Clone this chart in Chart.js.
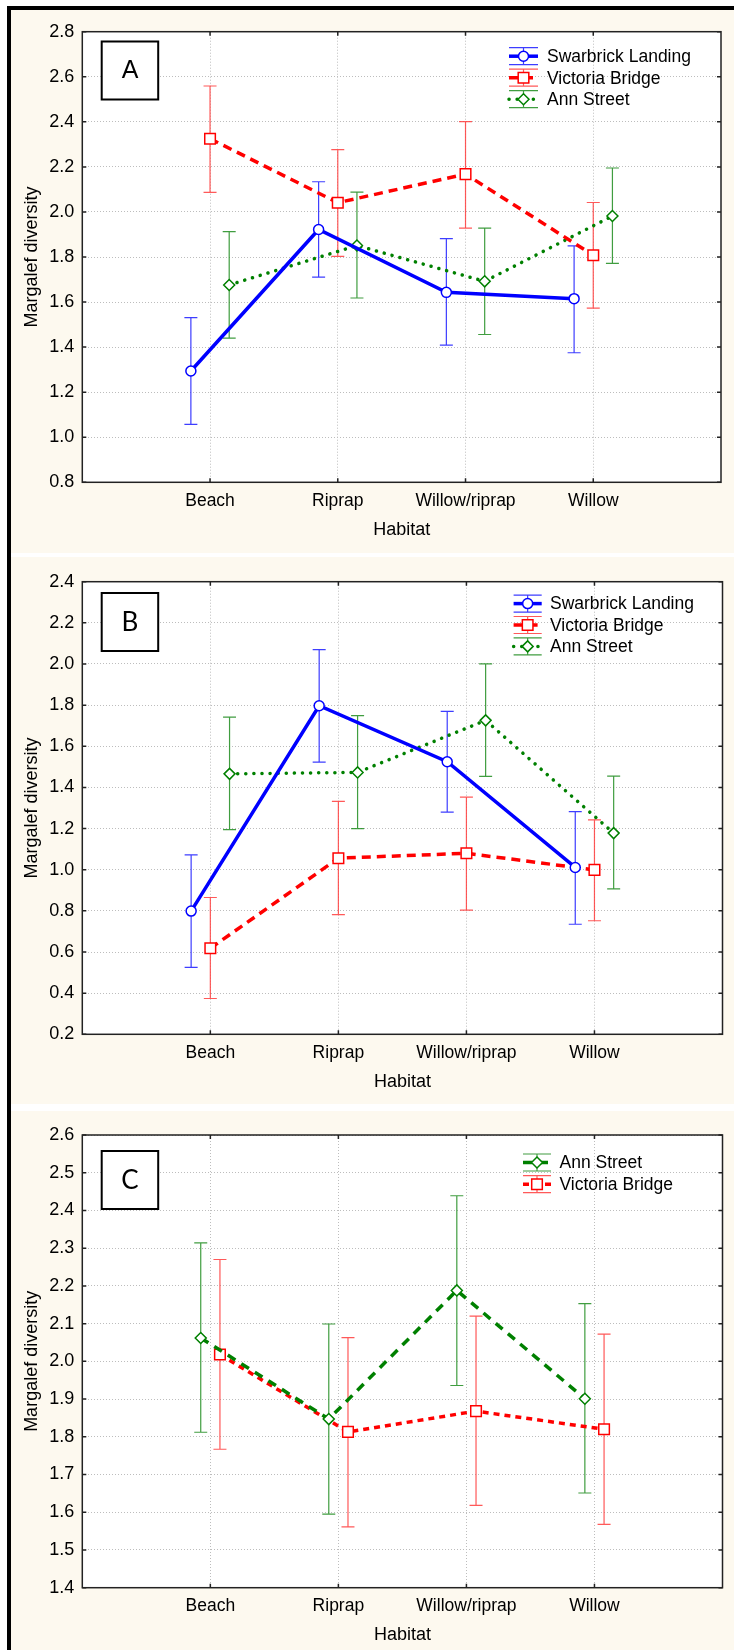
<!DOCTYPE html>
<html>
<head>
<meta charset="utf-8">
<script src="https://cdn.jsdelivr.net/npm/chart.js@4.4.1/dist/chart.umd.min.js"></script>
<style>
    body { margin: 0; background: #fff; }
    #frame { position: absolute; left: 7px; top: 6px; width: 727px; height: 1644px; box-sizing: border-box;
             border-top: 4px solid #000; border-left: 4px solid #000; background: #fff; }
    .panel { position: absolute; left: 11px; width: 723px; background: #fdf9ef; }
    canvas { display: block; }
</style>
</head>
<body>
<div id="frame"></div>
<div class="panel" style="top:10px;height:543px"><canvas id="chartA" width="723" height="543"></canvas></div>
<div class="panel" style="top:557px;height:547px"><canvas id="chartB" width="723" height="547"></canvas></div>
<div class="panel" style="top:1111px;height:539px"><canvas id="chartC" width="723" height="539"></canvas></div>
<script>
const habitats = ["Beach", "Riprap", "Willow/riprap", "Willow"];

// Panel A
const swarbrickA = [1.294, 1.922, 1.643, 1.615];
const swarbrickAHi = [1.531, 2.134, 1.882, 1.849];
const swarbrickALo = [1.057, 1.711, 1.409, 1.375];
const victoriaA = [2.325, 2.041, 2.168, 1.808];
const victoriaAHi = [2.559, 2.277, 2.401, 2.042];
const victoriaALo = [2.087, 1.803, 1.928, 1.573];
const annA = [1.676, 1.851, 1.692, 1.982];
const annAHi = [1.913, 2.088, 1.928, 2.195];
const annALo = [1.440, 1.618, 1.456, 1.772];

// Panel B
const swarbrickB = [0.799, 1.797, 1.525, 1.011];
const swarbrickBHi = [1.072, 2.070, 1.770, 1.282];
const swarbrickBLo = [0.525, 1.523, 1.280, 0.735];
const victoriaB = [0.618, 1.056, 1.080, 0.999];
const victoriaBHi = [0.865, 1.332, 1.353, 1.242];
const victoriaBLo = [0.374, 0.782, 0.804, 0.752];
const annB = [1.466, 1.473, 1.726, 1.178];
const annBHi = [1.742, 1.749, 2.001, 1.455];
const annBLo = [1.195, 1.200, 1.454, 0.907];

// Panel C
const annC = [2.062, 1.847, 2.188, 1.901];
const annCHi = [2.314, 2.099, 2.439, 2.153];
const annCLo = [1.812, 1.595, 1.936, 1.651];
const victoriaC = [2.018, 1.813, 1.868, 1.820];
const victoriaCHi = [2.270, 2.063, 2.120, 2.072];
const victoriaCLo = [1.767, 1.561, 1.618, 1.568];

const FONT = "'Liberation Sans', Arial, sans-serif";

const blueSolid = {borderColor: "#0000ff", borderWidth: 3.5, pointStyle: "circle", pointRadius: 5,
    pointBorderColor: "#0000ff", errColor: "rgba(40,40,255,0.9)"};
const redDashed = {borderColor: "#ff0000", borderWidth: 3.5, borderDash: [9, 6], pointStyle: "rect", pointRadius: 7.5,
    pointBorderColor: "#ff0000", errColor: "rgba(255,60,60,0.85)"};
const greenDotted = {borderColor: "#008000", borderWidth: 3.5, borderDash: [0.1, 8], borderCapStyle: "round",
    pointStyle: "rectRot", pointRadius: 5.5, pointBorderColor: "#008000", errColor: "rgba(30,140,30,0.85)"};
const greenDashed = Object.assign({}, greenDotted, {borderDash: [9, 7], borderCapStyle: "butt"});
const redShortDash = Object.assign({}, redDashed, {borderDash: [6, 5]});

function series(label, vals, hi, lo, offset, style) {
    return Object.assign({
        label: label,
        data: vals.map((v, i) => ({x: i + 1 + offset, y: v})),
        errHi: hi,
        errLo: lo,
        pointBackgroundColor: "#fff",
        pointBorderWidth: 1.5,
        tension: 0
    }, style);
}

function decor(cfg) {
    return {
        id: "decor" + cfg.letter,
        beforeDraw(chart) {
            const a = chart.chartArea, ctx = chart.ctx;
            ctx.save();
            ctx.fillStyle = "#fff";
            ctx.fillRect(a.left, a.top, a.right - a.left, a.bottom - a.top);
            ctx.restore();
        },
        beforeDatasetsDraw(chart) {
            const ctx = chart.ctx, xs = chart.scales.x, ys = chart.scales.y;
            chart.data.datasets.forEach(ds => {
                ctx.save();
                ctx.strokeStyle = ds.errColor;
                ctx.lineWidth = 1.2;
                ds.data.forEach((p, i) => {
                    const x = xs.getPixelForValue(p.x);
                    const y1 = ys.getPixelForValue(ds.errHi[i]);
                    const y2 = ys.getPixelForValue(ds.errLo[i]);
                    ctx.beginPath();
                    ctx.moveTo(x, y1); ctx.lineTo(x, y2);
                    ctx.moveTo(x - 6.5, y1); ctx.lineTo(x + 6.5, y1);
                    ctx.moveTo(x - 6.5, y2); ctx.lineTo(x + 6.5, y2);
                    ctx.stroke();
                });
                ctx.restore();
            });
        },
        afterDatasetsDraw(chart) {
            const a = chart.chartArea, ctx = chart.ctx, xs = chart.scales.x, ys = chart.scales.y;
            ctx.save();
            ctx.strokeStyle = "#222";
            ctx.lineWidth = 1.5;
            ctx.strokeRect(a.left, a.top, a.right - a.left, a.bottom - a.top);
            ctx.beginPath();
            ys.ticks.forEach(t => {
                const y = ys.getPixelForValue(t.value);
                ctx.moveTo(a.left, y); ctx.lineTo(a.left + 4, y);
                ctx.moveTo(a.right, y); ctx.lineTo(a.right - 4, y);
            });
            habitats.forEach((h, i) => {
                const x = xs.getPixelForValue(i + 1);
                ctx.moveTo(x, a.bottom); ctx.lineTo(x, a.bottom - 4);
                ctx.moveTo(x, a.top); ctx.lineTo(x, a.top + 4);
            });
            ctx.stroke();
            ctx.restore();
        },
        afterDraw(chart) {
            const ctx = chart.ctx;
            ctx.save();
            // panel letter box
            ctx.strokeStyle = "#000";
            ctx.lineWidth = 2;
            ctx.fillStyle = "#fff";
            ctx.fillRect(90.7, cfg.boxTop, 56.5, 58);
            ctx.strokeRect(90.7, cfg.boxTop, 56.5, 58);
            ctx.fillStyle = "#000";
            ctx.font = cfg.letterFont;
            ctx.textAlign = "center";
            ctx.textBaseline = "middle";
            ctx.fillText(cfg.letter, 119, cfg.boxTop + 30);
            // legend
            const lg = cfg.legend;
            const sets = chart.data.datasets;
            lg.order.forEach((di, row) => {
                const ds = sets[di];
                const cy = lg.y + row * lg.dy;
                const cx = (lg.x0 + lg.x1) / 2;
                ctx.strokeStyle = ds.errColor;
                ctx.lineWidth = 1.2;
                ctx.setLineDash([]);
                ctx.beginPath();
                ctx.moveTo(lg.x0, cy - 8.5); ctx.lineTo(lg.x1, cy - 8.5);
                ctx.moveTo(lg.x0, cy + 8.5); ctx.lineTo(lg.x1, cy + 8.5);
                ctx.moveTo(cx, cy - 8.5); ctx.lineTo(cx, cy + 8.5);
                ctx.stroke();
                ctx.strokeStyle = ds.borderColor;
                ctx.lineWidth = ds.borderWidth;
                ctx.lineCap = ds.borderCapStyle || "butt";
                ctx.setLineDash(ds.borderDash || []);
                ctx.beginPath();
                ctx.moveTo(lg.x0, cy); ctx.lineTo(lg.x1, cy);
                ctx.stroke();
                ctx.setLineDash([]);
                ctx.lineCap = "butt";
                ctx.fillStyle = "#fff";
                ctx.strokeStyle = ds.pointBorderColor;
                ctx.lineWidth = 1.5;
                Chart.helpers.drawPoint(ctx, {pointStyle: ds.pointStyle, radius: ds.pointRadius, rotation: 0, borderWidth: 1.5}, cx, cy);
                ctx.fillStyle = "#000";
                ctx.font = "17.5px " + FONT;
                ctx.textAlign = "left";
                ctx.textBaseline = "middle";
                ctx.fillText(ds.label, lg.tx, cy + 1);
            });
            ctx.restore();
        }
    };
}

function makeChart(id, datasets, yMin, yMax, yStep, area, cfg) {
    const el = document.getElementById(id);
    const W = el.width, H = el.height;
    const axisH = 60.4;
    const xFont = {family: FONT, size: 17.5};
    const yFont = {family: FONT, size: 18};
    return new Chart(el.getContext("2d"), {
        type: "line",
        data: {datasets: datasets},
        options: {
            responsive: false,
            animation: false,
            layout: {padding: {left: 0, top: area.top, right: W - area.right, bottom: H - area.bottom - axisH}},
            scales: {
                x: {
                    type: "linear",
                    min: 0,
                    max: 5,
                    afterFit: s => { s.height = axisH; },
                    ticks: {
                        stepSize: 1,
                        padding: 8,
                        autoSkip: false,
                        maxRotation: 0,
                        color: "#000",
                        font: xFont,
                        callback: v => habitats[v - 1] || ""
                    },
                    grid: {
                        drawTicks: false,
                        color: c => (c.tick && c.tick.value > 0 && c.tick.value < 5) ? "#bdbdbd" : "rgba(0,0,0,0)"
                    },
                    border: {display: false, dash: [1, 2]},
                    title: {display: true, text: "Habitat", color: "#000", font: {family: FONT, size: 18}, padding: {top: 0, bottom: 2}}
                },
                y: {
                    min: yMin,
                    max: yMax,
                    afterFit: s => { s.width = area.left; },
                    ticks: {
                        stepSize: yStep,
                        maxTicksLimit: 30,
                        padding: 8,
                        color: "#000",
                        font: yFont,
                        callback: v => v.toFixed(1)
                    },
                    grid: {drawTicks: false, color: "#bdbdbd"},
                    border: {display: false, dash: [1, 2]},
                    title: {display: true, text: "Margalef diversity", color: "#000", font: {family: FONT, size: 18}, padding: {top: 10.2, bottom: 0}}
                }
            },
            plugins: {
                legend: {display: false},
                tooltip: {enabled: false}
            }
        },
        plugins: [decor(cfg)]
    });
}

makeChart("chartA", [
    series("Swarbrick Landing", swarbrickA, swarbrickAHi, swarbrickALo, -0.15, blueSolid),
    series("Victoria Bridge", victoriaA, victoriaAHi, victoriaALo, 0, redDashed),
    series("Ann Street", annA, annAHi, annALo, 0.15, greenDotted)
], 0.8, 2.8, 0.2, {left: 71.3, right: 710, top: 21.7, bottom: 472.3}, {
    letter: "A", letterFont: "25px " + FONT, boxTop: 31.5,
    legend: {order: [0, 1, 2], x0: 498, x1: 527, tx: 536, y: 46.2, dy: 21.5}
});

makeChart("chartB", [
    series("Swarbrick Landing", swarbrickB, swarbrickBHi, swarbrickBLo, -0.15, blueSolid),
    series("Victoria Bridge", victoriaB, victoriaBHi, victoriaBLo, 0, redDashed),
    series("Ann Street", annB, annBHi, annBLo, 0.15, greenDotted)
], 0.2, 2.4, 0.2, {left: 71.3, right: 711.5, top: 24.7, bottom: 477.3}, {
    letter: "B", letterFont: "26px Lato, sans-serif", boxTop: 36,
    legend: {order: [0, 1, 2], x0: 502.6, x1: 530.7, tx: 539, y: 46.6, dy: 21.4}
});

makeChart("chartC", [
    series("Ann Street", annC, annCHi, annCLo, -0.075, greenDashed),
    series("Victoria Bridge", victoriaC, victoriaCHi, victoriaCLo, 0.075, redShortDash)
], 1.4, 2.6, 0.1, {left: 71.3, right: 711.5, top: 24, bottom: 476.7}, {
    letter: "C", letterFont: "26px Lato, sans-serif", boxTop: 40,
    legend: {order: [0, 1], x0: 512, x1: 540, tx: 548.5, y: 51.5, dy: 21.7}
});
</script>
</body>
</html>
